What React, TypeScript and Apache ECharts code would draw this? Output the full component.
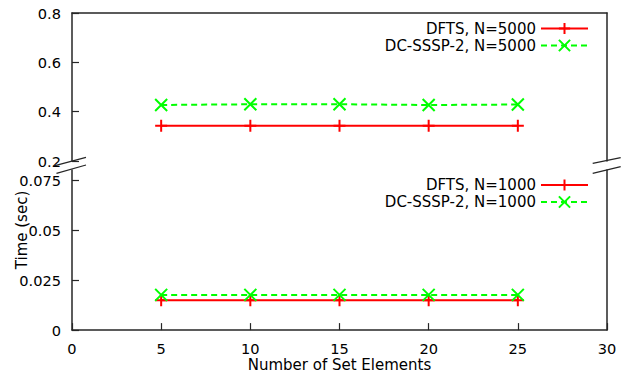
import React, { useEffect, useRef } from "react";
import * as echarts from "echarts";

const xValues = [5, 10, 15, 20, 25];
const dftsN5000 = [0.343, 0.343, 0.343, 0.343, 0.343];
const dcssspN5000 = [0.427, 0.43, 0.43, 0.427, 0.429];
const dftsN1000 = [0.0149, 0.0149, 0.0149, 0.0149, 0.0149];
const dcssspN1000 = [0.0176, 0.0176, 0.0176, 0.0176, 0.0176];
const seriesNames = ["DFTS, N=5000", "DC-SSSP-2, N=5000", "DFTS, N=1000", "DC-SSSP-2, N=1000"];
const xTicks = [0, 5, 10, 15, 20, 25, 30];
const yTicksTop = [0.2, 0.4, 0.6, 0.8];
const yTicksBottom = [0, 0.025, 0.05, 0.075];

const FONT = "DejaVu Sans";
const FS = 14.6;
const FS2 = 15;
const AX = "#262626";
const PLUS = "path://M5,0L5,10M0,5L10,5";
const CROSS = "path://M0,0L10,10M10,0L0,10";

function pairs(ys: number[]) {
  return xValues.map((x, i) => [x, ys[i]]);
}

export default function App() {
  const ref = useRef<HTMLDivElement>(null);
  useEffect(() => {
    if (!ref.current) return;
    const chart = echarts.init(ref.current, undefined, { renderer: "svg" });
    const axisLine = { show: true, lineStyle: { color: AX, width: 1.5 } };
    const label = { color: "#000", fontFamily: FONT, fontSize: FS };
    const mkSeries = (name: string, data: number[], idx: number, color: string, dashed: boolean, sym: string) => ({
      name,
      type: "line",
      xAxisIndex: idx,
      yAxisIndex: idx,
      data: pairs(data),
      symbol: sym,
      symbolSize: 12,
      showSymbol: true,
      lineStyle: { color, width: 2, type: dashed ? [6, 4] : "solid" },
      itemStyle: { color, borderColor: color, borderWidth: 2 },
      emphasis: { disabled: true },
    });
    const legendBase = {
      orient: "vertical",
      align: "right",
      right: 39,
      padding: 0,
      itemWidth: 47,
      itemHeight: 14,
      itemGap: 2,
      selectedMode: false,
      textStyle: { color: "#000", fontFamily: FONT, fontSize: FS2 },
    };
    chart.setOption({
      animation: false,
      backgroundColor: "#fff",
      textStyle: { fontFamily: FONT },
      grid: [
        { left: 72, top: 13, width: 535, height: 148 },
        { left: 72, top: 170, width: 535, height: 163.3 },
      ],
      legend: [
        { ...legendBase, top: 21, data: [seriesNames[0], seriesNames[1]] },
        { ...legendBase, top: 177.5, data: [seriesNames[2], seriesNames[3]] },
      ],
      xAxis: [
        {
          gridIndex: 0, type: "value", position: "top", min: 0, max: 30,
          axisLine, axisTick: { show: false }, axisLabel: { show: false }, splitLine: { show: false },
        },
        {
          gridIndex: 1, type: "value", position: "bottom", min: 0, max: 30,
          name: "Number of Set Elements", nameLocation: "middle", nameGap: 21,
          nameTextStyle: { color: "#000", fontFamily: FONT, fontSize: FS2 },
          axisLine,
          axisTick: { show: true, inside: true, length: 7, customValues: xTicks, lineStyle: { color: AX, width: 1.2 } },
          axisLabel: { ...label, margin: 11, customValues: xTicks },
          splitLine: { show: false },
        },
      ],
      yAxis: [
        {
          gridIndex: 0, type: "value", position: "left", min: 0.2, max: 0.8,
          axisLine,
          axisTick: { show: true, inside: true, length: 7, customValues: yTicksTop, lineStyle: { color: AX, width: 1.2 } },
          axisLabel: { ...label, margin: 11, customValues: yTicksTop },
          splitLine: { show: false },
        },
        {
          gridIndex: 1, type: "value", position: "left", min: 0, max: 0.08,
          axisLine,
          axisTick: { show: true, inside: true, length: 7, customValues: yTicksBottom, lineStyle: { color: AX, width: 1.2 } },
          axisLabel: { ...label, margin: 11, customValues: yTicksBottom },
          splitLine: { show: false },
        },
        {
          gridIndex: 0, type: "value", position: "right", min: 0.2, max: 0.8,
          axisLine, axisTick: { show: false }, axisLabel: { show: false }, splitLine: { show: false },
        },
        {
          gridIndex: 1, type: "value", position: "right", min: 0, max: 0.08,
          axisLine, axisTick: { show: false }, axisLabel: { show: false }, splitLine: { show: false },
        },
      ],
      series: [
        mkSeries(seriesNames[0], dftsN5000, 0, "#ff0000", false, PLUS),
        mkSeries(seriesNames[1], dcssspN5000, 0, "#00ff00", true, CROSS),
        mkSeries(seriesNames[2], dftsN1000, 1, "#ff0000", false, PLUS),
        mkSeries(seriesNames[3], dcssspN1000, 1, "#00ff00", true, CROSS),
      ],
      graphic: [
        { type: "line", shape: { x1: 55, y1: 165.7, x2: 86, y2: 157.3 }, style: { stroke: AX, lineWidth: 1.2 } },
        { type: "line", shape: { x1: 56.5, y1: 173.3, x2: 86, y2: 165 }, style: { stroke: AX, lineWidth: 1.2 } },
        { type: "line", shape: { x1: 592.7, y1: 163.3, x2: 620.7, y2: 157.7 }, style: { stroke: AX, lineWidth: 1.2 } },
        { type: "line", shape: { x1: 592.7, y1: 173.3, x2: 620.7, y2: 166.7 }, style: { stroke: AX, lineWidth: 1.2 } },
        {
          type: "text", x: 22, y: 230, rotation: Math.PI / 2,
          style: { text: "Time (sec)", fill: "#000", font: `${FS2}px "${FONT}"`, align: "center", verticalAlign: "middle" },
        },
      ],
    });
    return () => chart.dispose();
  }, []);
  return (
    <div
      ref={ref}
      style={{ position: "fixed", left: 0, top: 0, width: 628, height: 373, background: "#fff" }}
    />
  );
}
